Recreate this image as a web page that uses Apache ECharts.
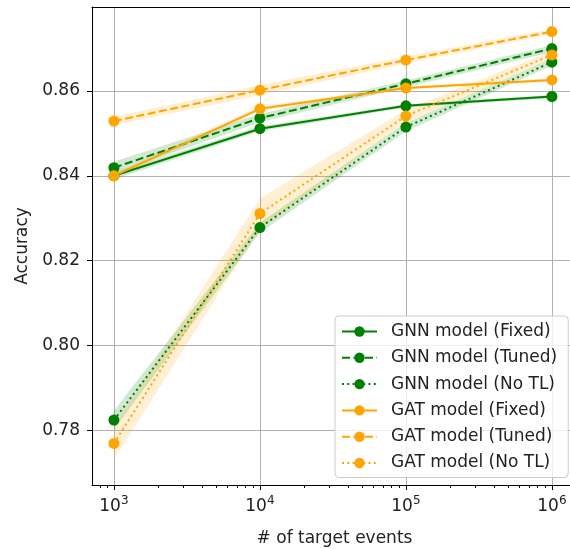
<!DOCTYPE html>
<html>
<head>
<meta charset="utf-8">
<script src="https://cdn.jsdelivr.net/npm/echarts@6/dist/echarts.min.js"></script>
<style>html,body{margin:0;padding:0;background:#fff;overflow:hidden}#c{width:570px;height:549px}</style>
</head>
<body>
<div id="c"></div>
<script>
// ---- data ----
const xVals = [1000, 10000, 100000, 1000000];
const xTickExp = ['3', '4', '5', '6'];
const xMinorTicks = [800, 900, 2000, 3000, 4000, 5000, 6000, 7000, 8000, 9000,
  20000, 30000, 40000, 50000, 60000, 70000, 80000, 90000,
  200000, 300000, 400000, 500000, 600000, 700000, 800000, 900000];
const yTicks = [0.78, 0.80, 0.82, 0.84, 0.86];

const seriesNames = ['GNN model (Fixed)', 'GNN model (Tuned)', 'GNN model (No TL)',
  'GAT model (Fixed)', 'GAT model (Tuned)', 'GAT model (No TL)'];

const gnnFixed = [0.8400, 0.8511, 0.8565, 0.8587];
const gnnTuned = [0.8419, 0.8536, 0.8617, 0.8700];
const gnnNoTL  = [0.7824, 0.8278, 0.8515, 0.8668];
const gatFixed = [0.8400, 0.8558, 0.8607, 0.8626];
const gatTuned = [0.8529, 0.8602, 0.8673, 0.8740];
const gatNoTL  = [0.7769, 0.8311, 0.8541, 0.8685];

const gnnFixedStd = [0.0008, 0.0006, 0.0004, 0.0004];
const gnnTunedStd = [0.0014, 0.0010, 0.0008, 0.0008];
const gnnNoTLStd  = [0.0022, 0.0012, 0.0010, 0.0008];
const gatFixedStd = [0.0006, 0.0006, 0.0004, 0.0004];
const gatTunedStd = [0.0010, 0.0012, 0.0008, 0.0006];
const gatNoTLStd  = [0.0038, 0.0036, 0.0015, 0.0010];

// ---- styling ----
const GREEN = '#008000', ORANGE = '#FFA500';
const GREEN_BAND = 'rgba(0,128,0,0.18)', ORANGE_BAND = 'rgba(255,165,0,0.17)';
const FONT = 'DejaVu Sans';
const TXT = '#222';
const FS = 17;
const GRID_C = '#b0b0b0';
const DASH = [8, 3.5], DOT = [2, 3.3];

const defs = [
  {name: seriesNames[0], vals: gnnFixed, std: gnnFixedStd, color: GREEN, band: GREEN_BAND, type: 'solid'},
  {name: seriesNames[1], vals: gnnTuned, std: gnnTunedStd, color: GREEN, band: GREEN_BAND, type: DASH},
  {name: seriesNames[2], vals: gnnNoTL,  std: gnnNoTLStd,  color: GREEN, band: GREEN_BAND, type: DOT},
  {name: seriesNames[3], vals: gatFixed, std: gatFixedStd, color: ORANGE, band: ORANGE_BAND, type: 'solid'},
  {name: seriesNames[4], vals: gatTuned, std: gatTunedStd, color: ORANGE, band: ORANGE_BAND, type: DASH},
  {name: seriesNames[5], vals: gatNoTL,  std: gatNoTLStd,  color: ORANGE, band: ORANGE_BAND, type: DOT}
];

const series = [];
defs.forEach((d, k) => {
  const bandData = xVals.map((x, i) => [x, d.vals[i] - d.std[i], d.vals[i] + d.std[i]]);
  series.push({
    type: 'custom', name: d.name + ' band', coordinateSystem: 'cartesian2d',
    xAxisIndex: 0, yAxisIndex: 0, silent: true, z: 1 + k * 0.01,
    data: bandData, encode: {x: 0, y: [1, 2]},
    renderItem: function (params, api) {
      if (params.dataIndex !== 0) return null;
      const up = bandData.map(p => api.coord([p[0], p[2]]));
      const lo = bandData.map(p => api.coord([p[0], p[1]])).reverse();
      return {type: 'polygon', shape: {points: up.concat(lo)}, style: {fill: d.band, stroke: null}};
    }
  });
  series.push({
    type: 'line', name: d.name, xAxisIndex: 0, yAxisIndex: 0,
    data: xVals.map((x, i) => [x, d.vals[i]]),
    symbol: 'circle', symbolSize: 11, showSymbol: true,
    lineStyle: {color: d.color, width: 2, type: d.type, cap: 'butt'},
    itemStyle: {color: d.color},
    z: 3 + k * 0.1,
    emphasis: {disabled: true}
  });
});

// axis extent: 10^2.85 .. 10^6.124 (plot continues to the right edge of the picture)
const X_MIN = 707.95, X_MAX = 1330454;
const chart = echarts.init(document.getElementById('c'), null, {renderer: 'canvas'});
chart.setOption({
  animation: false,
  backgroundColor: '#fff',
  textStyle: {fontFamily: FONT},
  grid: {left: 92, right: 0, top: 7, bottom: 64, show: false, outerBoundsMode: 'none', containLabel: false},
  legend: {
    data: seriesNames,
    orient: 'vertical', left: 335, top: 316,
    padding: [7, 11, 6, 6],
    itemWidth: 35, itemHeight: 13, itemGap: 9.3,
    backgroundColor: 'rgba(255,255,255,0.8)',
    borderColor: '#cccccc', borderWidth: 1, borderRadius: 4,
    textStyle: {fontFamily: FONT, fontSize: FS, color: TXT, padding: [0, 0, 0, 9]}
  },
  xAxis: [{
    type: 'log', logBase: 10, min: X_MIN, max: X_MAX, position: 'bottom',
    name: '# of target events', nameLocation: 'middle', nameGap: 45,
    nameTextStyle: {fontFamily: FONT, fontSize: FS, color: TXT, padding: [0, 0, 0, 7]},
    axisLine: {show: true, lineStyle: {color: '#000', width: 1}},
    axisTick: {show: true, customValues: xVals, length: 5, lineStyle: {color: '#000'}},
    axisLabel: {customValues: xVals, margin: 10, fontFamily: FONT, fontSize: FS, color: TXT,
      formatter: v => {
        const i = xVals.findIndex(x => Math.abs(x - v) / x < 1e-6);
        return i < 0 ? '' : '{b|10}{s|' + xTickExp[i] + '}';
      },
      rich: {
        b: {fontFamily: FONT, fontSize: FS, color: TXT, verticalAlign: 'bottom'},
        s: {fontFamily: FONT, fontSize: 12, color: TXT, verticalAlign: 'bottom', padding: [0, 0, 8, 0]}
      }},
    splitLine: {show: true, lineStyle: {color: GRID_C, width: 1}}
  }, {
    type: 'log', logBase: 10, min: X_MIN, max: X_MAX, position: 'bottom', gridIndex: 0,
    axisLine: {show: false},
    axisTick: {show: true, customValues: xMinorTicks, length: 3, lineStyle: {color: '#000'}},
    axisLabel: {show: false},
    splitLine: {show: false}
  }, {
    type: 'log', logBase: 10, min: X_MIN, max: X_MAX, position: 'top', gridIndex: 0,
    axisLine: {show: true, lineStyle: {color: '#000', width: 1}},
    axisTick: {show: false},
    axisLabel: {show: false},
    splitLine: {show: false}
  }],
  yAxis: {
    type: 'value', min: 0.7671, max: 0.8798,
    name: 'Accuracy', nameLocation: 'middle', nameGap: 56, nameRotate: 90,
    nameTextStyle: {fontFamily: FONT, fontSize: FS, color: TXT},
    axisLine: {show: true, lineStyle: {color: '#000', width: 1}},
    axisTick: {show: true, customValues: yTicks, length: 5, lineStyle: {color: '#000'}},
    axisLabel: {customValues: yTicks, margin: 12, fontFamily: FONT, fontSize: FS, color: TXT,
      formatter: v => v.toFixed(2)},
    splitLine: {show: true, lineStyle: {color: GRID_C, width: 1}}
  },
  series: series
});
</script>
</body>
</html>
